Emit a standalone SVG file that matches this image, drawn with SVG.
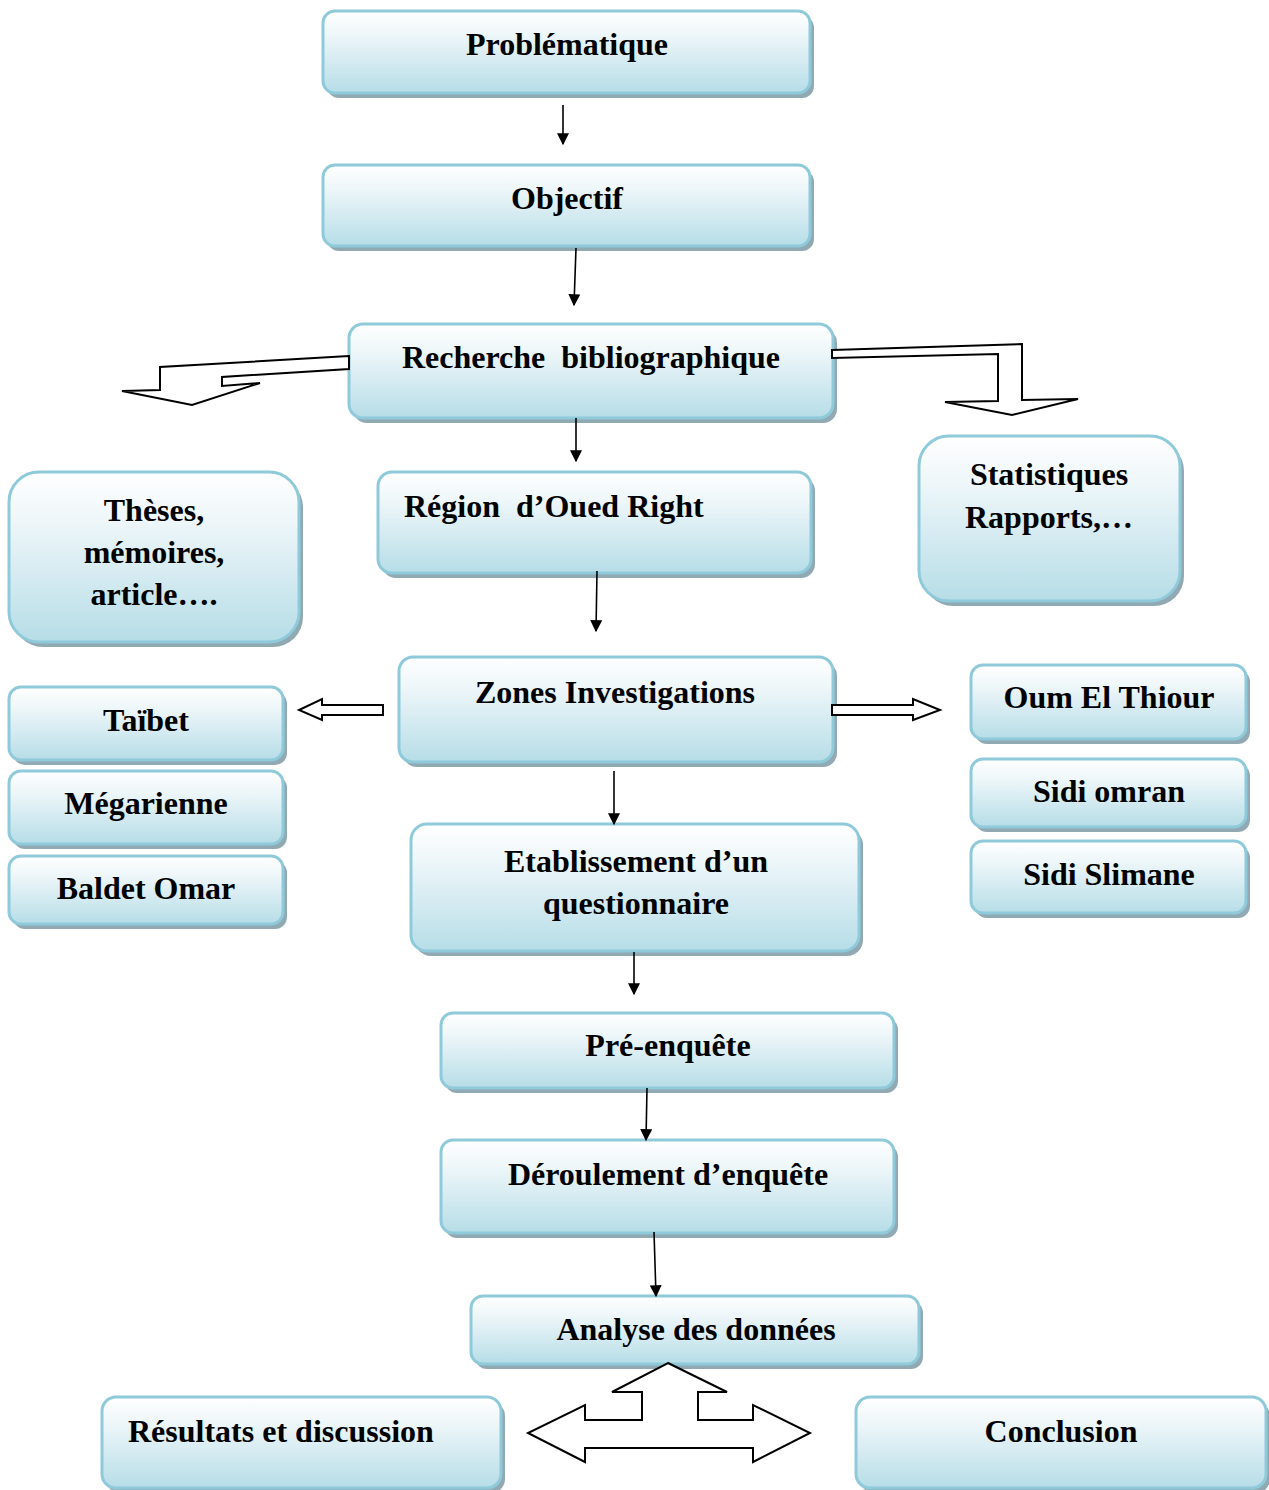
<svg xmlns="http://www.w3.org/2000/svg" width="1269" height="1490" viewBox="0 0 1269 1490">
<defs>
<linearGradient id="g" x1="0" y1="0" x2="0" y2="1">
<stop offset="0" stop-color="#FFFFFF"/>
<stop offset="0.3" stop-color="#EDF6F9"/>
<stop offset="1" stop-color="#B6DDE7"/>
</linearGradient>
<marker id="ah" viewBox="0 0 10 10" refX="9" refY="5" markerWidth="14" markerHeight="12" markerUnits="userSpaceOnUse" orient="auto">
<path d="M0,0 L10,5 L0,10 z" fill="#000"/>
</marker>
</defs>
<style>
.sh{fill:#90A9B2}
.bx{fill:url(#g);stroke:#8FCADB;stroke-width:3}
text{font-family:"Liberation Serif","Times New Roman",serif;font-weight:bold;font-size:32px;fill:#000}
.c{text-anchor:middle}
.ln{stroke:#000;stroke-width:1.6;fill:none;marker-end:url(#ah)}
.ba{fill:#fff;stroke:#000;stroke-width:2;stroke-linejoin:miter}
</style>
<rect width="1269" height="1490" fill="#fff"/>

<g id="n-problematique"><rect class="sh" x="327" y="16" width="487" height="82" rx="12"/><rect class="bx" x="323" y="11" width="487" height="82" rx="12"/><text class="c" x="567" y="55">Problématique</text></g>
<g id="n-objectif"><rect class="sh" x="327" y="170" width="487" height="81" rx="12"/><rect class="bx" x="323" y="165" width="487" height="81" rx="12"/><text class="c" x="567" y="209">Objectif</text></g>
<g id="n-recherche"><rect class="sh" x="353" y="329" width="484" height="94" rx="14"/><rect class="bx" x="349" y="324" width="484" height="94" rx="14"/><text class="c" x="591" y="368" xml:space="preserve">Recherche  bibliographique</text></g>
<g id="n-region"><rect class="sh" x="382" y="477" width="433" height="101" rx="14"/><rect class="bx" x="378" y="472" width="433" height="101" rx="14"/><text x="404" y="517" xml:space="preserve">Région  d’Oued Right</text></g>
<g id="n-theses"><rect class="sh" x="13" y="477" width="290" height="170" rx="30"/><rect class="bx" x="9" y="472" width="290" height="170" rx="30"/><text class="c" x="154" y="521">Thèses,</text><text class="c" x="154" y="563">mémoires,</text><text class="c" x="154" y="605">article….</text></g>
<g id="n-statistiques"><rect class="sh" x="923" y="441" width="261" height="165" rx="30"/><rect class="bx" x="919" y="436" width="261" height="165" rx="30"/><text class="c" x="1049" y="485">Statistiques</text><text class="c" x="1049" y="528">Rapports,…</text></g>
<g id="n-zones"><rect class="sh" x="403" y="662" width="434" height="105" rx="14"/><rect class="bx" x="399" y="657" width="434" height="105" rx="14"/><text class="c" x="615" y="703">Zones Investigations</text></g>
<g id="n-taibet"><rect class="sh" x="13" y="692" width="274" height="73" rx="12"/><rect class="bx" x="9" y="687" width="274" height="73" rx="12"/><text class="c" x="146" y="731">Taïbet</text></g>
<g id="n-megarienne"><rect class="sh" x="13" y="776" width="274" height="73" rx="12"/><rect class="bx" x="9" y="771" width="274" height="73" rx="12"/><text class="c" x="146" y="814">Mégarienne</text></g>
<g id="n-baldet"><rect class="sh" x="13" y="861" width="274" height="68" rx="12"/><rect class="bx" x="9" y="856" width="274" height="68" rx="12"/><text class="c" x="146" y="899">Baldet Omar</text></g>
<g id="n-oum"><rect class="sh" x="975" y="670" width="275" height="74" rx="12"/><rect class="bx" x="971" y="665" width="275" height="74" rx="12"/><text class="c" x="1109" y="708">Oum El Thiour</text></g>
<g id="n-omran"><rect class="sh" x="975" y="764" width="275" height="68" rx="12"/><rect class="bx" x="971" y="759" width="275" height="68" rx="12"/><text class="c" x="1109" y="802">Sidi omran</text></g>
<g id="n-slimane"><rect class="sh" x="975" y="846" width="275" height="72" rx="12"/><rect class="bx" x="971" y="841" width="275" height="72" rx="12"/><text class="c" x="1109" y="885">Sidi Slimane</text></g>
<g id="n-etablissement"><rect class="sh" x="415" y="829" width="448" height="127" rx="16"/><rect class="bx" x="411" y="824" width="448" height="127" rx="16"/><text class="c" x="636" y="872">Etablissement d’un</text><text class="c" x="636" y="914">questionnaire</text></g>
<g id="n-preenquete"><rect class="sh" x="445" y="1018" width="453" height="75" rx="12"/><rect class="bx" x="441" y="1013" width="453" height="75" rx="12"/><text class="c" x="668" y="1056">Pré-enquête</text></g>
<g id="n-deroulement"><rect class="sh" x="445" y="1145" width="453" height="93" rx="12"/><rect class="bx" x="441" y="1140" width="453" height="93" rx="12"/><text class="c" x="668" y="1185">Déroulement d’enquête</text></g>
<g id="n-analyse"><rect class="sh" x="475" y="1301" width="448" height="68" rx="12"/><rect class="bx" x="471" y="1296" width="448" height="68" rx="12"/><text class="c" x="696" y="1340">Analyse des données</text></g>
<g id="n-resultats"><rect class="sh" x="106" y="1402" width="399" height="91" rx="14"/><rect class="bx" x="102" y="1397" width="399" height="91" rx="14"/><text x="128" y="1442">Résultats et discussion</text></g>
<g id="n-conclusion"><rect class="sh" x="860" y="1402" width="410" height="91" rx="14"/><rect class="bx" x="856" y="1397" width="410" height="91" rx="14"/><text class="c" x="1061" y="1442">Conclusion</text></g>

<g id="connectors">
<path class="ln" d="M563,105 L563,144"/>
<path class="ln" d="M576,248 L574,305"/>
<path class="ln" d="M576,418 L576,461"/>
<path class="ln" d="M597,571 L596,631"/>
<path class="ln" d="M614,771 L614,824"/>
<path class="ln" d="M634,952 L634,994"/>
<path class="ln" d="M647,1088 L646,1140"/>
<path class="ln" d="M654,1232 L656,1296"/>
<polygon class="ba" points="349,356 160,367 160,390 122,391 192,405 260,383 222,386 222,377 349,369"/>
<polygon class="ba" points="832,350 1022,344 1022,400 1078,399 1012,415 945,402 998,401 998,354 832,358"/>
<polygon class="ba" points="383,705 322,705 322,699 299,710 322,720 322,715 383,715"/>
<polygon class="ba" points="832,705 913,705 913,699 940,710 913,720 913,715 832,715"/>
<polygon class="ba" points="668,1363 727,1392 698,1392 698,1420 753,1420 753,1405 810,1433 753,1462 753,1448 585,1448 585,1462 528,1433 585,1405 585,1420 642,1420 642,1392 612,1392"/>
</g>
</svg>
